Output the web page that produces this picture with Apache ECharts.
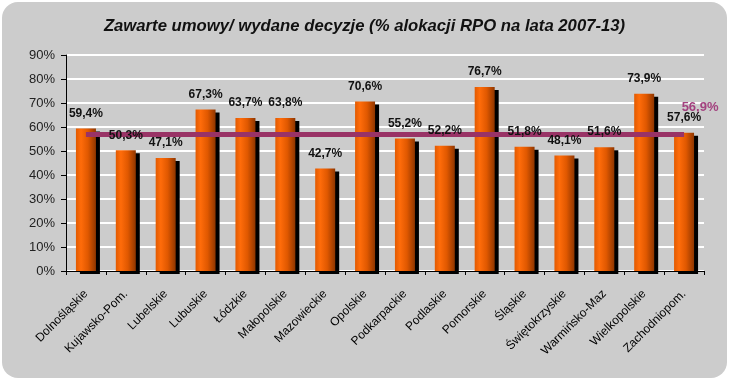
<!DOCTYPE html>
<html><head><meta charset="utf-8">
<script src="https://cdn.jsdelivr.net/npm/echarts@6/dist/echarts.min.js"></script>
<style>html,body{margin:0;padding:0;background:#fff}#c{width:729px;height:382px}</style>
</head><body><div id="c"></div>
<script>
const categories = ['Dolnośląskie','Kujawsko-Pom.','Lubelskie','Lubuskie','Łódzkie','Małopolskie','Mazowieckie','Opolskie','Podkarpackie','Podlaskie','Pomorskie','Śląskie','Świętokrzyskie','Warmińsko-Maz','Wielkopolskie','Zachodniopom.'];
const values = [59.4, 50.3, 47.1, 67.3, 63.7, 63.8, 42.7, 70.6, 55.2, 52.2, 76.7, 51.8, 48.1, 51.6, 73.9, 57.6];
const average = 56.9;
const yTicks = [0, 10, 20, 30, 40, 50, 60, 70, 80, 90];
const titleText = 'Zawarte umowy/ wydane decyzje (% alokacji RPO na lata 2007-13)';

const FONT = 'Liberation Sans, Arial, sans-serif';
const fmt = v => v.toFixed(1).replace('.', ',') + '%';
const chart = echarts.init(document.getElementById('c'));
const avgData = categories.map((c, i) => i === categories.length - 1
  ? {value: average, label: {show: true, position: 'top', offset: [16, -16], formatter: () => fmt(average), color: '#a3427f', fontWeight: 'bold', fontSize: 13, fontFamily: FONT}}
  : average);

chart.setOption({
  backgroundColor: '#ffffff',
  animation: false,
  graphic: [{type: 'rect', z: -10, silent: true, shape: {x: 2, y: 2, width: 725, height: 376, r: 16}, style: {fill: '#cccccc'}}],
  title: {text: titleText, left: 'center', top: 13, textStyle: {fontFamily: FONT, fontSize: 16.7, fontWeight: 'bold', fontStyle: 'italic', color: '#111'}},
  grid: {left: 66, right: 25, top: 55, bottom: 111},
  xAxis: {
    type: 'category', data: categories,
    axisLine: {lineStyle: {color: '#000', width: 1}},
    axisTick: {show: true, length: 4, lineStyle: {color: '#000'}},
    axisLabel: {rotate: 45, interval: 0, margin: 21, fontSize: 12, color: '#000', fontFamily: FONT}
  },
  yAxis: {
    type: 'value', min: 0, max: 90, interval: 10,
    axisLine: {show: true, lineStyle: {color: '#000', width: 1}},
    axisTick: {show: true, length: 5, lineStyle: {color: '#000'}},
    axisLabel: {formatter: v => yTicks.includes(v) ? v + '%' : '', fontSize: 13, color: '#222', margin: 11, fontFamily: FONT},
    splitLine: {lineStyle: {color: '#ffffff', width: 2}}
  },
  series: [
    {
      type: 'bar', data: values, barWidth: 20, z: 2,
      itemStyle: {
        color: new echarts.graphic.LinearGradient(0, 0, 1, 0, [
          {offset: 0, color: '#e25a00'}, {offset: 0.25, color: '#ff6c0a'}, {offset: 0.6, color: '#e05800'}, {offset: 1, color: '#8f3600'}]),
        shadowColor: '#000', shadowOffsetX: 4, shadowOffsetY: 3, shadowBlur: 0
      },
      label: {show: false}
    },
    {
      type: 'line', data: avgData, z: 3, symbol: 'circle', symbolSize: 0, showSymbol: true,
      itemStyle: {color: '#993366'},
      lineStyle: {color: '#993366', width: 5},
      label: {show: false}
    },
    {
      type: 'bar', data: values, barWidth: 20, barGap: '-100%', z: 4, silent: true,
      itemStyle: {color: 'rgba(0,0,0,0)'},
      label: {show: true, position: 'top', distance: 9, formatter: p => fmt(p.value), fontSize: 12, fontWeight: 'bold', color: '#111', fontFamily: FONT}
    }
  ]
});
</script></body></html>
